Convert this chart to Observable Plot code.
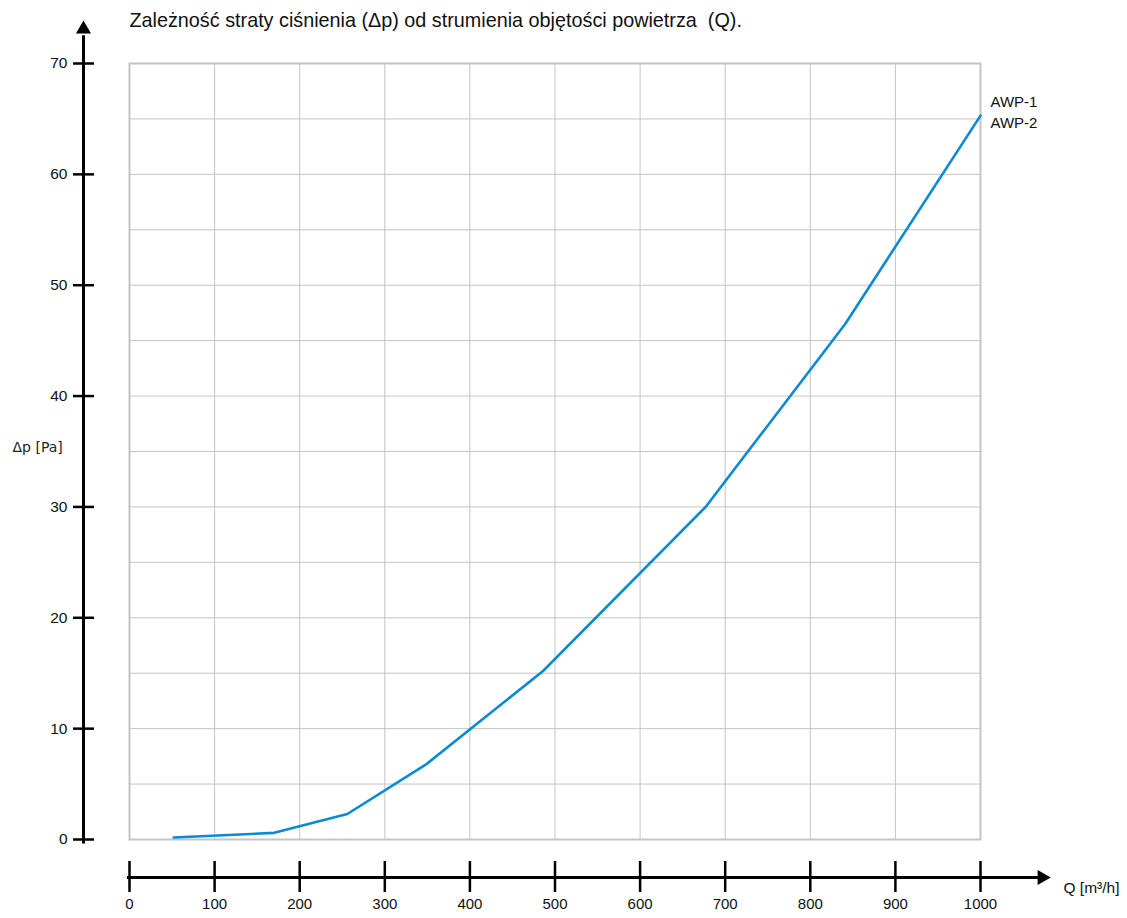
<!DOCTYPE html>
<html>
<head>
<meta charset="utf-8">
<script src="https://cdn.jsdelivr.net/npm/d3@7"></script>
<script src="https://cdn.jsdelivr.net/npm/@observablehq/plot@0.6"></script>
<style>
  html, body { margin: 0; padding: 0; background: #fff; }
  #chart svg { display: block; }
</style>
</head>
<body>
<div id="chart"></div>
<script>
// ---- data ----
const flowQ = [52, 170, 256, 349, 486, 677, 841, 1000];          // Q [m³/h]
const pressureDrop = [0.18, 0.6, 2.3, 6.8, 15.2, 30.0, 46.5, 65.3]; // Δp [Pa]
const xTicks = [0, 100, 200, 300, 400, 500, 600, 700, 800, 900, 1000];
const yTicks = [0, 10, 20, 30, 40, 50, 60, 70];
const xGrid = [0, 100, 200, 300, 400, 500, 600, 700, 800, 900, 1000];
const yGrid = [0, 5, 10, 15, 20, 25, 30, 35, 40, 45, 50, 55, 60, 65, 70];
const seriesLabel = "AWP-1\nAWP-2";
const titleText = "Zależność straty ciśnienia (\u0394p) od strumienia objętości powietrza  (Q).";
const xLabel = "Q [m\u00B3/h]";
const yLabel = "\u0394p [Pa]";

const rows = flowQ.map((q, i) => ({q, dp: pressureDrop[i]}));
const FONT = "'Liberation Sans', Arial, sans-serif";

const chart = Plot.plot({
  width: 1127,
  height: 918,
  marginLeft: 129,
  marginRight: 147,
  marginTop: 63,
  marginBottom: 79,
  style: {fontFamily: FONT, fontSize: "15px", color: "#111", background: "#fff"},
  x: {domain: [0, 1000]},
  y: {domain: [0, 70]},
  marks: [
    Plot.gridX(xGrid, {stroke: "#c4c4c4", strokeOpacity: 1, strokeWidth: 1}),
    Plot.gridY(yGrid, {stroke: "#c4c4c4", strokeOpacity: 1, strokeWidth: 1}),
    Plot.frame({stroke: "#c4c4c4", strokeWidth: 2}),
    Plot.line(rows, {x: "q", y: "dp", stroke: "#0a8ad2", strokeWidth: 2.6}),
    Plot.text([seriesLabel], {x: 1000, y: 65.3, dx: 10, dy: -5, textAnchor: "start", lineHeight: 1.45, fontSize: 15, fill: "#111"}),
    // y axis (detached, with arrow)
    Plot.ruleX([0], {y1: -0.4, y2: 72.5, dx: -46, stroke: "#000", strokeWidth: 3}),
    Plot.dot([0], {x: 0, y: 70, dx: -46, dy: -34.3, symbol: "triangle", r: 5.6, fill: "#000", stroke: "none"}),
    Plot.axisY(yTicks, {anchor: "left", tickSize: 21, dx: -35, tickPadding: 6, stroke: "#000", strokeWidth: 2.5, fontSize: 15.5, fill: "#111", label: null, tickFormat: d => String(d)}),
    Plot.text([yLabel], {frameAnchor: "left", dx: -117, dy: -4, textAnchor: "start", lineAnchor: "middle", fontSize: 14, fontFamily: "'DejaVu Sans', sans-serif", fill: "#222"}),
    // x axis (detached, with arrow)
    Plot.ruleY([0], {x1: -2.4, x2: 1072, dy: 38, stroke: "#000", strokeWidth: 3}),
    Plot.dot([0], {x: 1000, y: 0, dx: 61.5, dy: 38, symbol: "triangle", r: 5.6, rotate: 90, fill: "#000", stroke: "none"}),
    Plot.axisX(xTicks, {anchor: "bottom", tickSize: 31, dy: 22, tickPadding: 6, stroke: "#000", strokeWidth: 2.5, fontSize: 15, fill: "#111", label: null, tickFormat: d => String(d)}),
    Plot.text([xLabel], {x: 1000, y: 0, dx: 83, dy: 49, textAnchor: "start", fontSize: 15.5, fill: "#111"}),
    // title
    Plot.text([titleText], {frameAnchor: "top-left", dx: 0, dy: -43, textAnchor: "start", lineAnchor: "middle", fontSize: 19.8, fill: "#111"})
  ]
});
document.getElementById("chart").append(chart);
</script>
</body>
</html>
